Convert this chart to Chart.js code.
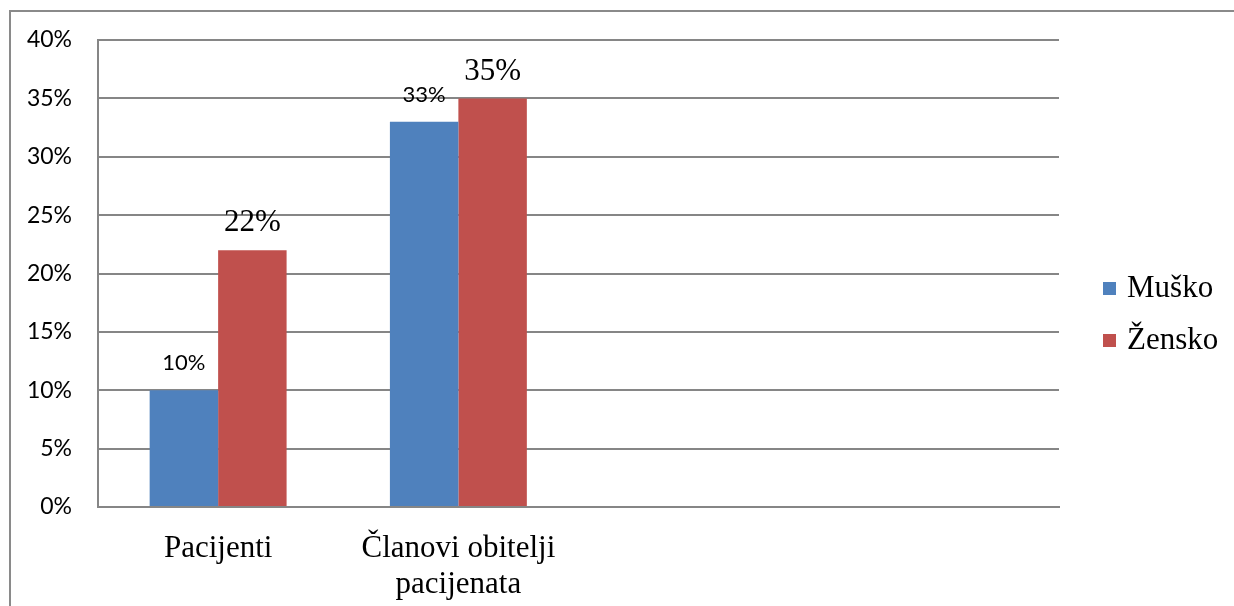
<!DOCTYPE html>
<html>
<head>
<meta charset="utf-8">
<script src="https://cdn.jsdelivr.net/npm/chart.js@4"></script>
<style>
html,body{margin:0;padding:0;background:#fff;}
#wrap{position:relative;width:1234px;height:606px;}
</style>
</head>
<body>
<div id="wrap"><canvas id="c" width="1234" height="606"></canvas></div>
<script>
const categories = ["Pacijenti", ["Članovi obitelji", "pacijenata"], "", ""];
const seriesNames = ["Muško", "Žensko"];
const muskoValues = [10, 33, null, null];
const zenskoValues = [22, 35, null, null];
const yTicks = [0, 5, 10, 15, 20, 25, 30, 35, 40];

const colors = ["#4F81BD", "#C0504D"];
const labelFonts = ["22px Lato, 'Open Sans', sans-serif", "31px 'Liberation Serif', 'Times New Roman', serif"];

const framePlugin = {
  id: 'frame',
  beforeDraw(chart) {
    const ctx = chart.ctx;
    ctx.save();
    ctx.fillStyle = '#fff';
    ctx.fillRect(0, 0, chart.width, chart.height);
    ctx.strokeStyle = '#8a8a8a';
    ctx.lineWidth = 2;
    ctx.beginPath();
    ctx.moveTo(10, chart.height);
    ctx.lineTo(10, 11);
    ctx.lineTo(chart.width, 11);
    ctx.stroke();
    ctx.restore();
  }
};

const labelPlugin = {
  id: 'valueLabels',
  afterDatasetsDraw(chart) {
    const ctx = chart.ctx;
    ctx.save();
    chart.data.datasets.forEach((ds, di) => {
      const meta = chart.getDatasetMeta(di);
      meta.data.forEach((bar, i) => {
        const v = ds.data[i];
        if (v === null || v === undefined) return;
        ctx.font = labelFonts[di];
        ctx.fillStyle = '#000';
        ctx.textAlign = 'center';
        ctx.textBaseline = 'middle';
        ctx.fillText(v + '%', bar.x, bar.y - 27);
      });
    });
    ctx.restore();
  }
};

const legendPlugin = {
  id: 'customLegend',
  afterDraw(chart) {
    const ctx = chart.ctx;
    ctx.save();
    const ys = [288, 340];
    chart.data.datasets.forEach((ds, di) => {
      ctx.fillStyle = ds.backgroundColor;
      ctx.fillRect(1103, ys[di] - 6, 13, 13);
      ctx.fillStyle = '#000';
      ctx.font = "31px 'Liberation Serif', 'Times New Roman', serif";
      ctx.textAlign = 'left';
      ctx.textBaseline = 'middle';
      ctx.fillText(ds.label, 1127, ys[di] + 1);
    });
    ctx.restore();
  }
};

new Chart(document.getElementById('c'), {
  type: 'bar',
  data: {
    labels: categories,
    datasets: [
      { label: seriesNames[0], data: muskoValues, backgroundColor: colors[0], categoryPercentage: 0.57, barPercentage: 1.0 },
      { label: seriesNames[1], data: zenskoValues, backgroundColor: colors[1], categoryPercentage: 0.57, barPercentage: 1.0 }
    ]
  },
  options: {
    responsive: false,
    animation: false,
    devicePixelRatio: 1,
    layout: { padding: { left: 0, right: 175, top: 40, bottom: 0 } },
    plugins: { legend: { display: false }, tooltip: { enabled: false } },
    scales: {
      x: {
        grid: { display: false, drawTicks: false },
        border: { display: true, color: '#868686', width: 2 },
        ticks: {
          color: '#000',
          font: { family: "'Liberation Serif', 'Times New Roman', serif", size: 31, lineHeight: 1.15 },
          padding: 24,
          maxRotation: 0,
          autoSkip: false
        },
        afterFit(scale) { scale.height = 99; }
      },
      y: {
        min: 0,
        max: 40,
        afterBuildTicks(scale) { scale.ticks = yTicks.map(v => ({ value: v })); },
        grid: { color: '#868686', lineWidth: 2, drawTicks: false },
        border: { display: true, color: '#868686', width: 2 },
        ticks: {
          color: '#000',
          font: { family: "Lato, 'Open Sans', sans-serif", size: 23 },
          padding: 26,
          callback: v => v + '%'
        },
        afterFit(scale) { scale.width = 98; }
      }
    }
  },
  plugins: [framePlugin, labelPlugin, legendPlugin]
});
</script>
</body>
</html>
